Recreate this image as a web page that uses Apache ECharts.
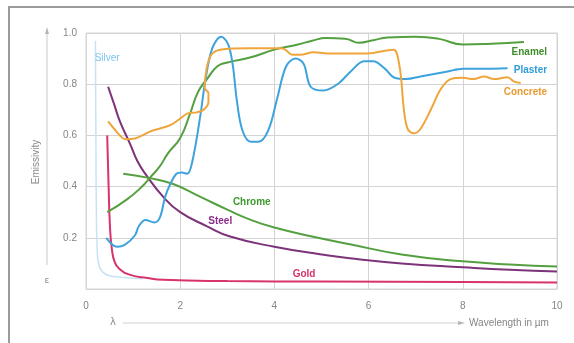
<!DOCTYPE html>
<html>
<head>
<meta charset="utf-8">
<script src="https://cdn.jsdelivr.net/npm/echarts@6/dist/echarts.min.js"></script>
<style>
  html, body { margin: 0; padding: 0; background: #fff; }
  #chart { width: 574px; height: 343px; }
</style>
</head>
<body>
<div id="chart"></div>
<script>
// Spectral emissivity of common surfaces versus wavelength (µm)
const xTicks = [0, 2, 4, 6, 8, 10];
const yTicks = [0.2, 0.4, 0.6, 0.8, 1.0];

const silver = [[0.2,0.97],[0.21,0.6],[0.22,0.3],[0.24,0.14],[0.28,0.09],[0.36,0.065],[0.5,0.052],[0.8,0.045],[1.2,0.04]];
const gold = [[0.45,0.60],[0.48,0.40],[0.51,0.24],[0.55,0.155],[0.61,0.105],[0.7,0.08],[0.94,0.055],[1.3,0.043],[1.64,0.036],[3,0.031],[5,0.029],[8,0.027],[10,0.025]];
const steel = [[0.47,0.79],[0.6,0.72],[0.72,0.655],[0.94,0.565],[1.09,0.50],[1.26,0.45],[1.64,0.36],[2.0,0.30],[2.57,0.245],[3.06,0.205],[4.0,0.165],[5.0,0.135],[5.6,0.12],[6.7,0.10],[8.0,0.085],[9.0,0.075],[10,0.068]];
const chrome = [[0.79,0.45],[1.3,0.435],[1.85,0.41],[2.43,0.36],[3.0,0.31],[3.5,0.27],[4.0,0.24],[4.8,0.205],[5.6,0.175],[6.7,0.135],[8.0,0.108],[9.0,0.096],[10,0.088]];
const enamel = [[0.45,0.30],[0.87,0.35],[1.19,0.40],[1.36,0.435],[1.57,0.48],[1.74,0.53],[2.0,0.59],[2.21,0.685],[2.38,0.77],[2.57,0.82],[2.79,0.87],[3.0,0.885],[3.5,0.905],[4.0,0.935],[4.5,0.955],[4.8,0.97],[5.1,0.98],[5.5,0.978],[5.8,0.962],[6.1,0.972],[6.4,0.982],[7.0,0.985],[7.5,0.977],[8.0,0.955],[8.6,0.958],[9.3,0.965]];
const plaster = [[0.43,0.20],[0.66,0.165],[0.83,0.173],[1.04,0.21],[1.12,0.245],[1.26,0.27],[1.45,0.26],[1.57,0.28],[1.68,0.36],[1.79,0.41],[1.92,0.45],[2.03,0.455],[2.15,0.45],[2.26,0.50],[2.43,0.68],[2.53,0.81],[2.68,0.94],[2.87,0.985],[3.02,0.955],[3.12,0.87],[3.2,0.74],[3.32,0.62],[3.5,0.575],[3.66,0.575],[3.87,0.62],[4.06,0.745],[4.25,0.87],[4.45,0.90],[4.62,0.88],[4.77,0.79],[5.04,0.775],[5.34,0.80],[5.62,0.85],[5.9,0.89],[6.1,0.89],[6.35,0.86],[6.55,0.825],[6.8,0.82],[7.1,0.83],[7.68,0.85],[8.0,0.86],[8.4,0.86],[8.95,0.862]];
const concrete = [[0.47,0.655],[0.6,0.625],[0.72,0.60],[0.83,0.585],[1.04,0.588],[1.2,0.60],[1.36,0.615],[1.57,0.627],[1.79,0.64],[1.96,0.66],[2.15,0.685],[2.35,0.69],[2.5,0.70],[2.6,0.73],[2.6,0.765],[2.52,0.785],[2.56,0.86],[2.66,0.915],[2.85,0.935],[3.49,0.94],[4.13,0.94],[4.23,0.935],[4.38,0.915],[4.55,0.915],[4.83,0.925],[5.13,0.92],[5.98,0.92],[6.53,0.935],[6.6,0.92],[6.68,0.84],[6.75,0.70],[6.83,0.625],[6.96,0.608],[7.1,0.625],[7.32,0.70],[7.53,0.78],[7.74,0.82],[8.0,0.825],[8.23,0.82],[8.45,0.83],[8.66,0.82],[8.95,0.827],[9.09,0.81],[9.23,0.805]];

// Curve names with the point where each name is written
const curveLabels = [
  { name: 'Silver',   at: [0.45, 0.90], align: 'center' },
  { name: 'Gold',     at: [4.63, 0.058], align: 'center' },
  { name: 'Steel',    at: [2.85, 0.265], align: 'center' },
  { name: 'Chrome',   at: [3.52, 0.339], align: 'center' },
  { name: 'Enamel',   at: [9.79, 0.926], align: 'right' },
  { name: 'Plaster',  at: [9.79, 0.856], align: 'right' },
  { name: 'Concrete', at: [9.79, 0.767], align: 'right' }
];

const colors = {
  Silver: '#c6e3f6', Gold: '#d8336b', Steel: '#7c3379', Chrome: '#54a040',
  Enamel: '#54a040', Plaster: '#3ea3dc', Concrete: '#efa53c'
};
const labelColors = {
  Silver: '#7cc3ee', Gold: '#d8306a', Steel: '#8a2a8c', Chrome: '#3f9a2e',
  Enamel: '#3f8f2c', Plaster: '#2f9ddb', Concrete: '#ea9a2c'
};
const curves = { Silver: silver, Gold: gold, Steel: steel, Chrome: chrome, Enamel: enamel, Plaster: plaster, Concrete: concrete };

const chart = echarts.init(document.getElementById('chart'), null, { renderer: 'canvas' });

const series = Object.keys(curves).map(name => {
  const lab = curveLabels.find(l => l.name === name);
  return {
    name: name,
    type: 'line',
    data: curves[name],
    showSymbol: false,
    smooth: name === 'Plaster' || name === 'Concrete' ? 0.35 : 0.5,
    lineStyle: { color: colors[name], width: name === 'Silver' ? 1.5 : 2 },
    z: name === 'Silver' ? 1 : 3,
    animation: false,
    markPoint: {
      symbol: 'circle', symbolSize: 0, animation: false,
      data: [{ coord: lab.at }],
      label: {
        show: true, position: 'inside', formatter: name,
        align: lab.align, verticalAlign: 'middle',
        color: labelColors[name], fontFamily: 'Liberation Sans, Arial, sans-serif',
        fontSize: 10, fontWeight: name === 'Silver' ? 'normal' : 'bold'
      }
    }
  };
});

const axisText = { color: '#858585', fontSize: 10, fontFamily: 'Liberation Sans, Arial, sans-serif' };

chart.setOption({
  animation: false,
  backgroundColor: '#fff',
  grid: { left: 86, right: 17, top: 33, bottom: 54, show: true, borderColor: '#d4d4d4', borderWidth: 1 },
  xAxis: {
    type: 'value', min: 0, max: 10, interval: 2,
    axisLine: { show: false }, axisTick: { show: false },
    splitLine: { show: true, lineStyle: { color: '#d4d4d4', width: 1 } },
    axisLabel: Object.assign({ margin: 12, formatter: v => xTicks.includes(v) ? String(v) : '' }, axisText)
  },
  yAxis: {
    type: 'value', min: 0, max: 1, interval: 0.2,
    axisLine: { show: false }, axisTick: { show: false },
    splitLine: { show: true, lineStyle: { color: '#d4d4d4', width: 1 } },
    axisLabel: Object.assign({ margin: 9, formatter: v => {
      const t = yTicks.find(k => Math.abs(k - v) < 1e-6);
      return t === undefined ? '' : t.toFixed(1);
    } }, axisText)
  },
  series: series,
  graphic: [
    // outer frame
    { type: 'rect', shape: { x: 9, y: 7, width: 600, height: 400 }, style: { fill: 'none', stroke: '#9b9b9b', lineWidth: 2 }, silent: true },
    // vertical quantity arrow
    { type: 'line', shape: { x1: 47, y1: 32, x2: 47, y2: 265 }, style: { stroke: '#d2d2d2', lineWidth: 1.2 } },
    { type: 'polygon', shape: { points: [[47, 27], [45, 34], [49, 34]] }, style: { fill: '#b5b5b5' } },
    { type: 'text', x: 47, y: 281, style: { text: 'ε', fill: '#8a8a8a', fontSize: 9, align: 'center', verticalAlign: 'middle', fontFamily: 'DejaVu Sans, sans-serif' } },
    { type: 'text', x: 36, y: 162, rotation: Math.PI / 2, style: { text: 'Emissivity', fill: '#8a8a8a', fontSize: 10, align: 'center', verticalAlign: 'middle', fontFamily: 'Liberation Sans, Arial, sans-serif' } },
    // horizontal wavelength arrow
    { type: 'text', x: 113, y: 322, style: { text: 'λ', fill: '#8a8a8a', fontSize: 10, align: 'center', verticalAlign: 'middle', fontFamily: 'DejaVu Sans, sans-serif' } },
    { type: 'line', shape: { x1: 123, y1: 323, x2: 460, y2: 323 }, style: { stroke: '#d2d2d2', lineWidth: 1.2 } },
    { type: 'polygon', shape: { points: [[465, 323], [458, 321], [458, 325]] }, style: { fill: '#b5b5b5' } },
    { type: 'text', x: 469, y: 323, style: { text: 'Wavelength in µm', fill: '#858585', fontSize: 10, align: 'left', verticalAlign: 'middle', fontFamily: 'Liberation Sans, Arial, sans-serif' } }
  ]
});
</script>
</body>
</html>
